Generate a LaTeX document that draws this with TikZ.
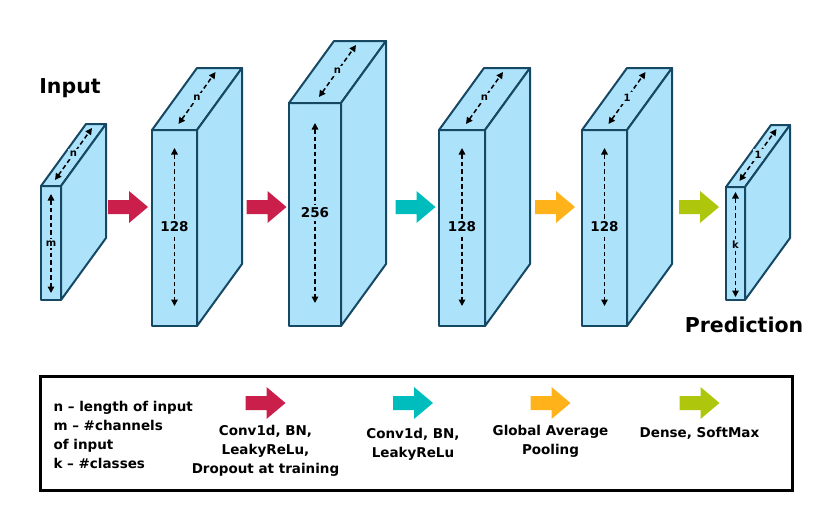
\documentclass[tikz,border=0pt]{standalone}
\usepackage{fontspec}
\setmainfont{DejaVu Sans}
\usetikzlibrary{arrows.meta,calc,positioning}
\definecolor{layerfill}{RGB}{172,226,250}
\definecolor{layeredge}{RGB}{22,72,100}
\definecolor{convred}{RGB}{202,31,74}
\definecolor{convcyan}{RGB}{0,189,189}
\definecolor{poolorange}{RGB}{255,178,26}
\definecolor{densegreen}{RGB}{174,198,12}
\tikzset{
  layer/.style={draw=layeredge,line width=2pt,fill=layerfill,line join=round},
  dimline/.style={{Triangle[length=6.5pt,width=6.5pt]}-{Triangle[length=6.5pt,width=6.5pt]},
    line width=1.5pt,dash pattern=on 4.5pt off 3pt},
  dimlab/.style={fill=layerfill,inner sep=3pt,font=\bfseries\fontsize{13.5}{15}\selectfont},
  dimsmall/.style={fill=layerfill,inner sep=2pt,font=\bfseries\fontsize{10}{11}\selectfont},
  blockarrow/.pic={
    \fill (-20,-7) -- (1,-7) -- (1,-16) -- (20,0) -- (1,16) -- (1,7) -- (-20,7) -- cycle;
    \coordinate (-tip) at (20,0);
    \coordinate (-south) at (0,16);
  },
  title/.style={font=\bfseries\fontsize{20.5}{24}\selectfont},
  legtext/.style={font=\bfseries\fontsize{13.5}{19}\selectfont,align=center,text=black}
}

\begin{document}
\begin{tikzpicture}[x=1pt,y=-1pt]
  \useasboundingbox (0,0) rectangle (830,504);
  % layers: front face, top face, side face
  \foreach \nm/\x/\y/\w/\h in {inp/41/186/20/114, cva/152/130/45/196, cvb/289/103/52/223,
                               cvc/439/130/46/196, gap/582/130/45/196, out/726/187/19/113}{
    \coordinate (\nm-tl) at (\x,\y);
    \coordinate (\nm-tr) at (\x+\w,\y);
    \coordinate (\nm-br) at (\x+\w,\y+\h);
    \coordinate (\nm-bl) at (\x,\y+\h);
    \draw[layer] (\nm-tl) rectangle (\nm-br);
    \draw[layer] (\nm-tl) -- ++(45,-62) -- ++(\w,0) -- (\nm-tr) -- cycle;
    \draw[layer] (\nm-tr) -- ++(45,-62) -- ++(0,\h) -- (\nm-br) -- cycle;
  }

  % height arrows
  \draw[dimline] ($(inp-tl)!0.5!(inp-tr)+(0,8)$) -- node[dimsmall]{m} ($(inp-bl)!0.5!(inp-br)+(0,-7)$);
  \draw[dimline] ($(cva-tl)!0.5!(cva-tr)+(0,18)$) -- node[dimlab]{128} ($(cva-bl)!0.5!(cva-br)+(0,-20)$);
  \draw[dimline] ($(cvb-tl)!0.5!(cvb-tr)+(0,20)$) -- node[dimlab]{256} ($(cvb-bl)!0.5!(cvb-br)+(0,-23)$);
  \draw[dimline] ($(cvc-tl)!0.5!(cvc-tr)+(0,18)$) -- node[dimlab]{128} ($(cvc-bl)!0.5!(cvc-br)+(0,-20)$);
  \draw[dimline] ($(gap-tl)!0.5!(gap-tr)+(0,18)$) -- node[dimlab]{128} ($(gap-bl)!0.5!(gap-br)+(0,-20)$);
  \draw[dimline] ($(out-tl)!0.5!(out-tr)+(0,5)$) -- node[dimsmall]{k} ($(out-bl)!0.5!(out-br)+(0,-3)$);

  % depth arrows
  \draw[dimline] ($(inp-tl)!0.5!(inp-tr)+(4,-6)$) -- node[dimsmall]{n} ++(37,-52);
  \draw[dimline] ($(cva-tl)!0.5!(cva-tr)+(4,-6)$) -- node[dimsmall]{n} ++(37,-52);
  \draw[dimline] ($(cvb-tl)!0.5!(cvb-tr)+(4,-6)$) -- node[dimsmall]{n} ++(37,-52);
  \draw[dimline] ($(cvc-tl)!0.5!(cvc-tr)+(4,-6)$) -- node[dimsmall]{n} ++(37,-52);
  \draw[dimline] ($(gap-tl)!0.5!(gap-tr)+(4,-6)$) -- node[dimsmall]{1} ++(37,-52);
  \draw[dimline] ($(out-tl)!0.5!(out-tr)+(4,-6)$) -- node[dimsmall]{1} ++(37,-52);

  % operations between layers
  \pic[fill=convred] (opa) at (128,207) {blockarrow};
  \pic[fill=convred] (opb) at (266.5,207) {blockarrow};
  \pic[fill=convcyan] (opc) at (415.5,207) {blockarrow};
  \pic[fill=poolorange] (opd) at (555,207) {blockarrow};
  \pic[fill=densegreen] (ope) at (699,207) {blockarrow};

  \node[title] (input) at (70,88) {Input};
  \node[title] (pred) at (744,325) {Prediction};

  % legend
  \node[draw,line width=3pt,minimum width=752pt,minimum height=114pt,inner sep=0pt]
    (legend) at (416,433) {};
  \node[legtext,align=left,anchor=west] (key) at (50,434.5)
    {n \textendash{} length of input\\m \textendash{} \#channels\\of input\\k \textendash{} \#classes};
  \pic[fill=convred] (kred) at (265.5,403) {blockarrow};
  \pic[fill=convcyan] (kcyan) at (413,403) {blockarrow};
  \pic[fill=poolorange] (korange) at (550.5,403) {blockarrow};
  \pic[fill=densegreen] (kgreen) at (699.5,403) {blockarrow};
  \node[legtext,below=3pt of kred-south] (kredlab) {Conv1d, BN,\\LeakyReLu,\\Dropout at training};
  \node[legtext,below=5.5pt of kcyan-south] (kcyanlab) {Conv1d, BN,\\LeakyReLu};
  \node[legtext,below=3pt of korange-south] (korangelab) {Global Average\\Pooling};
  \node[legtext,below=5pt of kgreen-south] (kgreenlab) {Dense, SoftMax};
\end{tikzpicture}
\end{document}
